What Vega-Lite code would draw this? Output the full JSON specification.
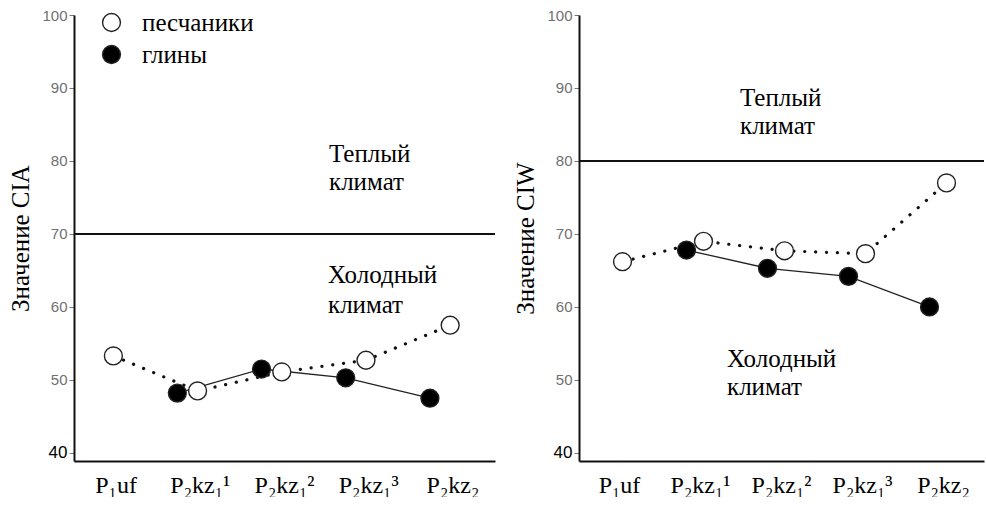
{
  "$schema": "https://vega.github.io/schema/vega-lite/v6.json",
  "background": "white",
  "padding": {"left": 8, "top": 8, "right": 0, "bottom": 0},
  "config": {
    "view": {"stroke": null},
    "axis": {"grid": false, "domainColor": "#111", "domainWidth": 2, "titleFont": "Liberation Serif", "titleFontSize": 25, "titleFontWeight": "normal", "titleColor": "black"},
    "axisX": {"ticks": false, "labelFont": "Liberation Serif", "labelFontSize": 24, "labelColor": "black", "labelAngle": 0, "labelPadding": 12, "title": null},
    "axisY": {"tickColor": "#777", "tickSize": 5, "tickWidth": 1, "labelFont": "Liberation Sans", "labelFontSize": 15, "labelColor": "#707070", "labelPadding": 2, "titlePadding": 8}
  },
  "datasets": {
    "pts": [
      {"panel": "CIA", "type": "глины", "stage": "P₂kz₁¹", "i": 1, "value": 48.2},
      {"panel": "CIA", "type": "глины", "stage": "P₂kz₁²", "i": 2, "value": 51.5},
      {"panel": "CIA", "type": "глины", "stage": "P₂kz₁³", "i": 3, "value": 50.3},
      {"panel": "CIA", "type": "глины", "stage": "P₂kz₂", "i": 4, "value": 47.5},
      {"panel": "CIA", "type": "песчаники", "stage": "P₁uf", "i": 0, "value": 53.3},
      {"panel": "CIA", "type": "песчаники", "stage": "P₂kz₁¹", "i": 1, "value": 48.5},
      {"panel": "CIA", "type": "песчаники", "stage": "P₂kz₁²", "i": 2, "value": 51.1},
      {"panel": "CIA", "type": "песчаники", "stage": "P₂kz₁³", "i": 3, "value": 52.7},
      {"panel": "CIA", "type": "песчаники", "stage": "P₂kz₂", "i": 4, "value": 57.5},
      {"panel": "CIW", "type": "глины", "stage": "P₂kz₁¹", "i": 1, "value": 67.8},
      {"panel": "CIW", "type": "глины", "stage": "P₂kz₁²", "i": 2, "value": 65.3},
      {"panel": "CIW", "type": "глины", "stage": "P₂kz₁³", "i": 3, "value": 64.2},
      {"panel": "CIW", "type": "глины", "stage": "P₂kz₂", "i": 4, "value": 60.0},
      {"panel": "CIW", "type": "песчаники", "stage": "P₁uf", "i": 0, "value": 66.2},
      {"panel": "CIW", "type": "песчаники", "stage": "P₂kz₁¹", "i": 1, "value": 69.0},
      {"panel": "CIW", "type": "песчаники", "stage": "P₂kz₁²", "i": 2, "value": 67.7},
      {"panel": "CIW", "type": "песчаники", "stage": "P₂kz₁³", "i": 3, "value": 67.3},
      {"panel": "CIW", "type": "песчаники", "stage": "P₂kz₂", "i": 4, "value": 77.0}
    ],
    "notes": [
      {"id": "cia_warm", "stage": "P₂kz₁²", "value": 81.0, "label": ["Теплый", "климат"]},
      {"id": "cia_cold", "stage": "P₂kz₁²", "value": 64.4, "label": ["Холодный", "климат"]},
      {"id": "ciw_warm", "stage": "P₂kz₁¹", "value": 88.6, "label": ["Теплый", "климат"]},
      {"id": "ciw_cold", "stage": "P₂kz₁¹", "value": 52.9, "label": ["Холодный", "климат"]}
    ]
  },
  "spacing": 17,
  "resolve": {
    "scale": {"x": "independent", "y": "independent", "fill": "independent", "xOffset": "independent"},
    "legend": {"fill": "independent"}
  },
  "hconcat": [
    {
      "width": 421,
      "height": 446,
      "layer": [
        {
          "data": {"values": [{}]},
          "mark": {"type": "rule", "stroke": "#111", "strokeWidth": 2},
          "encoding": {"y": {"datum": 70, "type": "quantitative"}}
        },
        {
          "data": {"name": "pts"},
          "transform": [{"filter": "datum.panel == 'CIA' && datum.type == 'глины'"}],
          "mark": {"type": "line", "stroke": "#222", "strokeWidth": 1.3},
          "encoding": {
            "x": {"field": "stage", "type": "nominal", "scale": {"type": "band", "domain": ["P₁uf", "P₂kz₁¹", "P₂kz₁²", "P₂kz₁³", "P₂kz₂"], "paddingInner": 0, "paddingOuter": 0}},
            "xOffset": {"field": "type", "type": "nominal", "scale": {"domain": ["глины", "песчаники"], "range": [9, 49.5]}},
            "y": {"field": "value", "type": "quantitative", "scale": {"domain": [38.9, 100], "nice": false, "zero": false}, "axis": {"values": [40, 50, 60, 70, 80, 90, 100], "title": "Значение CIA", "labelColor": {"condition": {"test": "datum.value === 40", "value": "black"}, "value": "#707070"}, "labelFontSize": {"condition": {"test": "datum.value === 40", "value": 17}, "value": 15}}},
            "order": {"field": "i", "type": "quantitative"}
          }
        },
        {
          "data": {"name": "pts"},
          "transform": [{"filter": "datum.panel == 'CIA' && datum.type == 'песчаники'"}],
          "mark": {"type": "line", "stroke": "#111", "strokeWidth": 3.2, "strokeDash": [0.1, 10.8], "strokeCap": "round"},
          "encoding": {
            "x": {"field": "stage", "type": "nominal"},
            "xOffset": {"field": "type", "type": "nominal"},
            "y": {"field": "value", "type": "quantitative"},
            "order": {"field": "i", "type": "quantitative"}
          }
        },
        {
          "data": {"name": "pts"},
          "transform": [{"filter": "datum.panel == 'CIA'"}],
          "mark": {"type": "point", "filled": true, "size": 320, "stroke": "#222", "strokeWidth": 1.4, "opacity": 1},
          "encoding": {
            "x": {"field": "stage", "type": "nominal"},
            "xOffset": {"field": "type", "type": "nominal"},
            "y": {"field": "value", "type": "quantitative"},
            "fill": {"field": "type", "type": "nominal", "scale": {"domain": ["песчаники", "глины"], "range": ["white", "black"]},
              "legend": {"orient": "none", "legendX": 25, "legendY": -5, "title": null, "padding": 0, "labelFont": "Liberation Serif", "labelFontSize": 25, "labelColor": "black", "symbolType": "circle", "symbolSize": 320, "symbolStrokeColor": "#222", "symbolStrokeWidth": 1.4, "rowPadding": 6, "labelOffset": 18}}
          }
        },
        {
          "data": {"name": "notes"},
          "transform": [{"filter": "datum.id == 'cia_warm'"}],
          "mark": {"type": "text", "align": "left", "baseline": "middle", "dx": 44.5, "font": "Liberation Serif", "fontSize": 25, "lineHeight": 28, "color": "black"},
          "encoding": {"x": {"field": "stage", "type": "nominal"}, "y": {"field": "value", "type": "quantitative"}, "text": {"field": "label"}}
        },
        {
          "data": {"name": "notes"},
          "transform": [{"filter": "datum.id == 'cia_cold'"}],
          "mark": {"type": "text", "align": "left", "baseline": "middle", "dx": 43.5, "font": "Liberation Serif", "fontSize": 25, "lineHeight": 30, "color": "black"},
          "encoding": {"x": {"field": "stage", "type": "nominal"}, "y": {"field": "value", "type": "quantitative"}, "text": {"field": "label"}}
        }
      ]
    },
    {
      "width": 405,
      "height": 446,
      "layer": [
        {
          "data": {"values": [{}]},
          "mark": {"type": "rule", "stroke": "#111", "strokeWidth": 2},
          "encoding": {"y": {"datum": 80, "type": "quantitative"}}
        },
        {
          "data": {"name": "pts"},
          "transform": [{"filter": "datum.panel == 'CIW' && datum.type == 'глины'"}],
          "mark": {"type": "line", "stroke": "#222", "strokeWidth": 1.3},
          "encoding": {
            "x": {"field": "stage", "type": "nominal", "scale": {"type": "band", "domain": ["P₁uf", "P₂kz₁¹", "P₂kz₁²", "P₂kz₁³", "P₂kz₂"], "paddingInner": 0, "paddingOuter": 0}},
            "xOffset": {"field": "type", "type": "nominal", "scale": {"domain": ["глины", "песчаники"], "range": [18, 52]}},
            "y": {"field": "value", "type": "quantitative", "scale": {"domain": [38.9, 100], "nice": false, "zero": false}, "axis": {"values": [40, 50, 60, 70, 80, 90, 100], "title": "Значение CIW", "labelColor": {"condition": {"test": "datum.value === 40", "value": "black"}, "value": "#707070"}, "labelFontSize": {"condition": {"test": "datum.value === 40", "value": 17}, "value": 15}}},
            "order": {"field": "i", "type": "quantitative"}
          }
        },
        {
          "data": {"name": "pts"},
          "transform": [{"filter": "datum.panel == 'CIW' && datum.type == 'песчаники'"}],
          "mark": {"type": "line", "stroke": "#111", "strokeWidth": 3.2, "strokeDash": [0.1, 10.8], "strokeCap": "round"},
          "encoding": {
            "x": {"field": "stage", "type": "nominal"},
            "xOffset": {"field": "type", "type": "nominal"},
            "y": {"field": "value", "type": "quantitative"},
            "order": {"field": "i", "type": "quantitative"}
          }
        },
        {
          "data": {"name": "pts"},
          "transform": [{"filter": "datum.panel == 'CIW'"}],
          "mark": {"type": "point", "filled": true, "size": 320, "stroke": "#222", "strokeWidth": 1.4, "opacity": 1},
          "encoding": {
            "x": {"field": "stage", "type": "nominal"},
            "xOffset": {"field": "type", "type": "nominal"},
            "y": {"field": "value", "type": "quantitative"},
            "fill": {"field": "type", "type": "nominal", "scale": {"domain": ["песчаники", "глины"], "range": ["white", "black"]}, "legend": null}
          }
        },
        {
          "data": {"name": "notes"},
          "transform": [{"filter": "datum.id == 'ciw_warm'"}],
          "mark": {"type": "text", "align": "left", "baseline": "middle", "dx": 39.5, "font": "Liberation Serif", "fontSize": 25, "lineHeight": 28, "color": "black"},
          "encoding": {"x": {"field": "stage", "type": "nominal"}, "y": {"field": "value", "type": "quantitative"}, "text": {"field": "label"}}
        },
        {
          "data": {"name": "notes"},
          "transform": [{"filter": "datum.id == 'ciw_cold'"}],
          "mark": {"type": "text", "align": "left", "baseline": "middle", "dx": 26.5, "font": "Liberation Serif", "fontSize": 25, "lineHeight": 28, "color": "black"},
          "encoding": {"x": {"field": "stage", "type": "nominal"}, "y": {"field": "value", "type": "quantitative"}, "text": {"field": "label"}}
        }
      ]
    }
  ]
}
